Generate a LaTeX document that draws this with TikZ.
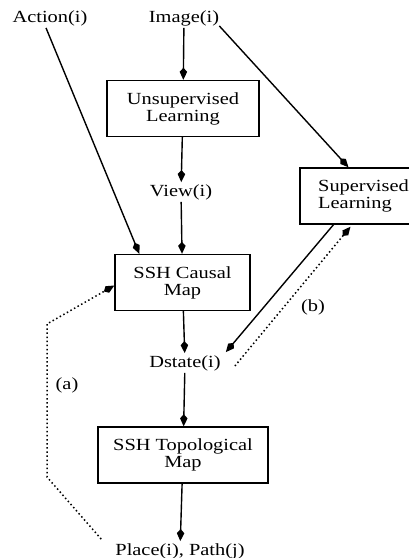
\documentclass[tikz,border=0pt]{standalone}
\usepackage{fontspec}
\setmainfont{Liberation Serif}[FakeStretch=1.2]
\usepackage{tikz}
\usetikzlibrary{arrows.meta}

\begin{document}
\begin{tikzpicture}[x=1pt,y=-1pt,
    font=\fontsize{17}{17}\selectfont,
    box/.style={draw,line width=1.4pt,minimum height=56pt,align=center,inner sep=2pt},
    lbl/.style={inner sep=2pt},
    flow/.style={-{Kite[length=12pt,width=7.5pt,inset=4pt]},line width=1.4pt},
    hint/.style={-{Kite[length=12pt,width=7.5pt,inset=4pt]},line width=1.5pt,dash pattern=on 1.5pt off 2.6pt}]
        \useasboundingbox (0,0) rectangle (409,558);
        % inputs
        \node[lbl] (act) at (50,18) {Action(i)};
        \node[lbl] (img) at (184,18) {Image(i)};
        % main column
        \node[box,minimum width=152pt] (unsup) at (183,108.5) {Unsupervised\\Learning};
        \node[lbl] (view) at (181,192) {View(i)};
        \node[box,minimum width=135pt] (causal) at (182.5,282.5) {SSH Causal\\Map};
        \node[lbl] (dst) at (185,363) {Dstate(i)};
        \node[box,minimum width=170pt] (topo) at (183,455) {SSH Topological\\Map};
        \node[lbl] (place) at (180,551) {Place(i), Path(j)};
        % side branch
        \node[box,align=left,inner xsep=18pt] (sup) at (363.5,196) {Supervised\\Learning};
        \node[lbl] (lb) at (313,307) {(b)};
        \node[lbl] (la) at (67,385) {(a)};
        \coordinate (abot) at (47,477);
        \coordinate (atop) at (47,324);
        % connectors
        \draw[flow] (img) -- (unsup);
        \draw[flow] (unsup) -- (view);
        \draw[flow] (view) -- (causal);
        \draw[flow] (causal) -- (dst);
        \draw[flow] (dst) -- (topo);
        \draw[flow] (topo) -- (place);
        \draw[flow] ([xshift=-4pt]act.south) -- ([xshift=25pt]causal.north west);
        \draw[flow] ([xshift=-2pt,yshift=2pt]img.south east) -- ([xshift=49pt]sup.north west);
        \draw[flow] ([xshift=34pt]sup.south west) -- ([xshift=3pt,yshift=1pt]dst.north east);
        \draw[hint] ([xshift=12pt,yshift=-3pt]dst.east) -- ([xshift=51pt,yshift=-2pt]sup.south west);
        \draw[hint] ([xshift=-12pt,yshift=2pt]place.north west) -- (abot) -- (atop) -- ([yshift=-3pt]causal.west);
      \end{tikzpicture}
\end{document}
